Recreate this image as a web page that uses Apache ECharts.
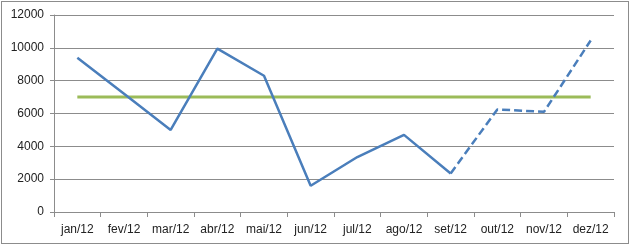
<!DOCTYPE html>
<html>
<head>
<meta charset="utf-8">
<script src="https://cdn.jsdelivr.net/npm/echarts@6/dist/echarts.min.js"></script>
<style>
  html, body { margin: 0; padding: 0; background: #fff; }
  #chart { width: 630px; height: 246px; position: relative; }
  #frame { position: absolute; left: 1px; top: 1px; width: 626px; height: 241px; border: 1px solid #8c8c8c; pointer-events: none; }
</style>
</head>
<body>
<div id="chart"></div>
<div id="frame"></div>
<script>
// months
const categories = ['jan/12', 'fev/12', 'mar/12', 'abr/12', 'mai/12', 'jun/12', 'jul/12', 'ago/12', 'set/12', 'out/12', 'nov/12', 'dez/12'];
// realized values (solid)
const realizado = [9400, 7200, 5000, 9950, 8300, 1600, 3350, 4700, 2350, null, null, null];
// forecast values (dashed), starts at set/12
const previsto = [null, null, null, null, null, null, null, null, 2350, 6250, 6100, 10450];
// target line
const meta = [7000, 7000, 7000, 7000, 7000, 7000, 7000, 7000, 7000, 7000, 7000, 7000];
const yTicks = { min: 0, max: 12000, interval: 2000 };

const chart = echarts.init(document.getElementById('chart'));

const labelFont = { fontFamily: 'Liberation Sans', fontSize: 12, color: '#222' };
const blue = '#4a7ebb';

chart.setOption({
    animation: false,
    backgroundColor: '#fff',
    grid: { left: 54, right: 16, top: 15, bottom: 34 },
    xAxis: {
        type: 'category',
        data: categories,
        boundaryGap: true,
        axisLine: { lineStyle: { color: '#8c8c8c', width: 1 } },
        axisTick: { show: true, length: 5, lineStyle: { color: '#8c8c8c' } },
        axisLabel: { ...labelFont, margin: 12, interval: 0 },
        splitLine: { show: false }
    },
    yAxis: {
        type: 'value',
        min: yTicks.min,
        max: yTicks.max,
        interval: yTicks.interval,
        axisLine: { show: true, lineStyle: { color: '#8c8c8c', width: 1 } },
        axisTick: { show: true, length: 4, lineStyle: { color: '#8c8c8c' } },
        axisLabel: { ...labelFont, margin: 10, formatter: v => String(v) },
        splitLine: { show: true, lineStyle: { color: '#8c8c8c', width: 1 } }
    },
    series: [
        {
            name: 'Meta',
            type: 'line',
            data: meta,
            showSymbol: false,
            lineStyle: { color: '#9bbb59', width: 3 },
            z: 2
        },
        {
            name: 'Realizado',
            type: 'line',
            data: realizado,
            showSymbol: false,
            lineStyle: { color: blue, width: 2.5 },
            z: 3
        },
        {
            name: 'Previsto',
            type: 'line',
            data: previsto,
            showSymbol: false,
            lineStyle: { color: blue, width: 2.5, type: [8, 4] },
            z: 3
        }
    ]
});
</script>
</body>
</html>
